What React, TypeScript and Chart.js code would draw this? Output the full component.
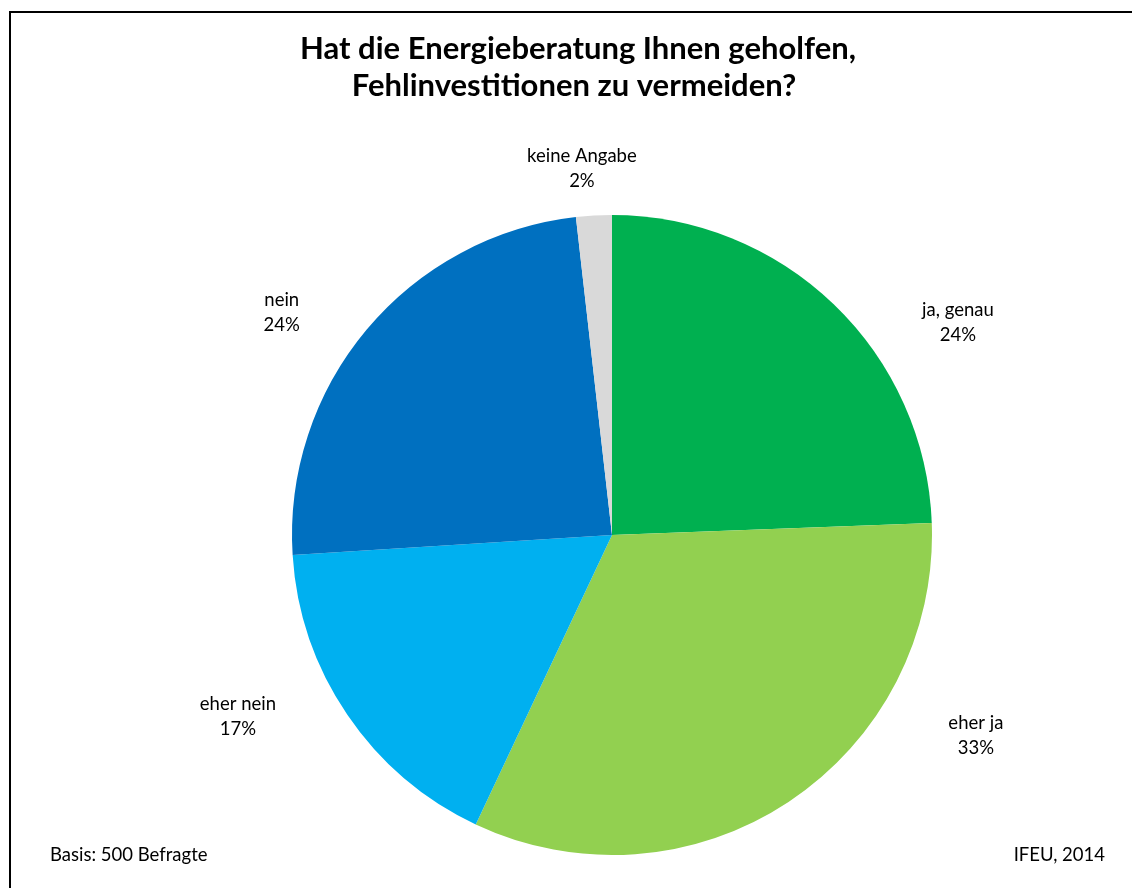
import React, { useEffect, useRef } from "react";
import { Chart, registerables } from "chart.js";

Chart.register(...registerables);

const categories = ["ja, genau", "eher ja", "eher nein", "nein", "keine Angabe"];
const values = [24.4, 32.6, 17.0, 24.2, 1.8];
const valueLabels = ["24%", "33%", "17%", "24%", "2%"];
const colors = ["#00B050", "#92D050", "#00B0F0", "#0070C0", "#D9D9D9"];
const titleLines = ["Hat die Energieberatung Ihnen geholfen,", "Fehlinvestitionen zu vermeiden?"];
const footerLeft = "Basis: 500 Befragte";
const footerRight = "IFEU, 2014";
// label block centre relative to the pie centre, in units of the pie radius
const labelPlacement: number[][] = [
  [1.081, -0.664],
  [1.137, 0.628],
  [-1.169, 0.566],
  [-1.032, -0.694],
  [-0.094, -1.145],
];

const W = 1132;
const H = 888;

const decorPlugin = {
  id: "decor",
  afterDraw(chart: any) {
    const ctx = chart.ctx as CanvasRenderingContext2D;
    ctx.save();
    // frame
    ctx.strokeStyle = "#000";
    ctx.lineWidth = 2;
    ctx.beginPath();
    ctx.moveTo(10, H);
    ctx.lineTo(10, 12);
    ctx.lineTo(W, 12);
    ctx.stroke();

    // title
    ctx.fillStyle = "#000";
    ctx.font = "bold 31px Lato";
    ctx.textAlign = "center";
    ctx.textBaseline = "alphabetic";
    ctx.fillText(titleLines[0], 578, 59);
    ctx.fillText(titleLines[1], 574, 96);

    // slice labels
    const meta = chart.getDatasetMeta(0);
    ctx.font = "18.5px Lato";
    ctx.textBaseline = "middle";
    meta.data.forEach((arc: any, i: number) => {
      const p = arc.getProps(["x", "y", "outerRadius"], true);
      const [fx, fy] = labelPlacement[i];
      const cx = p.x + fx * p.outerRadius;
      const cy = p.y + fy * p.outerRadius;
      ctx.fillText(categories[i], cx, cy - 12.5);
      ctx.fillText(valueLabels[i], cx, cy + 12.5);
    });

    // footer
    ctx.textBaseline = "alphabetic";
    ctx.textAlign = "left";
    ctx.fillText(footerLeft, 50, 861);
    ctx.textAlign = "right";
    ctx.fillText(footerRight, 1105, 861);
    ctx.restore();
  },
};

export default function App() {
  const ref = useRef<HTMLCanvasElement | null>(null);
  useEffect(() => {
    if (!ref.current) return;
    const chart = new Chart(ref.current, {
      type: "pie",
      data: {
        labels: categories,
        datasets: [
          {
            data: values,
            backgroundColor: colors,
            borderWidth: 0,
            hoverOffset: 0,
          },
        ],
      },
      options: {
        animation: false,
        responsive: false,
        events: [],
        layout: { padding: { left: 292, right: 200, top: 215, bottom: 33 } },
        plugins: {
          legend: { display: false },
          title: { display: false },
          tooltip: { enabled: false },
        },
      },
      plugins: [decorPlugin],
    });
    return () => chart.destroy();
  }, []);
  return (
    <div style={{ position: "fixed", left: 0, top: 0, width: W, height: H, background: "#fff" }}>
      <canvas ref={ref} width={W} height={H} style={{ width: W, height: H, display: "block" }} />
    </div>
  );
}
